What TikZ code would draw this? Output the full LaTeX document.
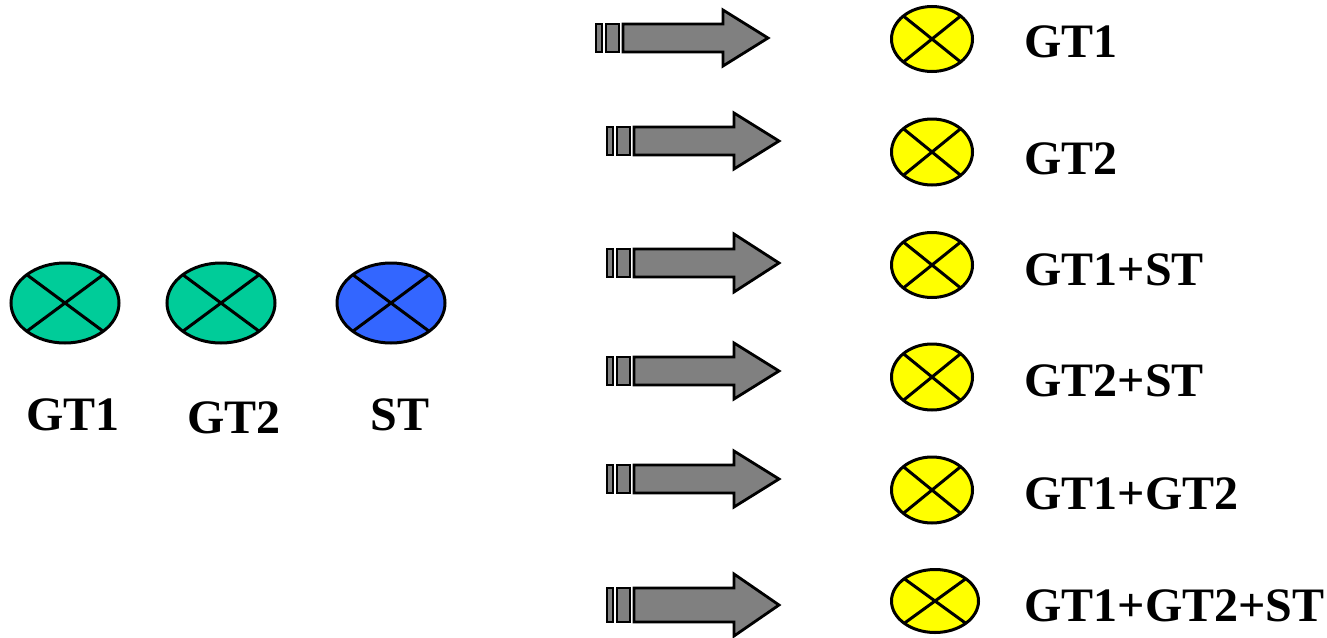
\documentclass[tikz,border=0pt]{standalone}
\usepackage{fontspec}
\setmainfont{Liberation Serif}
\usetikzlibrary{shapes.geometric,calc}
\definecolor{tgreen}{RGB}{0,204,153}
\definecolor{tblue}{RGB}{51,102,255}
\definecolor{tyellow}{RGB}{255,255,0}
\definecolor{tgray}{RGB}{128,128,128}
\tikzset{
  ell/.style={ellipse, draw=black, line width=1.5pt, inner sep=0pt},
  crossline/.style={draw=black, line width=1.5pt},
  lbl/.style={font=\fontsize{24}{28}\selectfont\bfseries, inner sep=0pt, text=black},
  arrowpart/.style={draw=black, fill=tgray, line width=1.4pt, line join=miter}
}
% \xell{name}{x}{y}{rx}{ry}{colour}
\newcommand{\xell}[6]{%
  \node[ell, fill=#6, minimum width={0.5pt*#4}, minimum height={0.5pt*#5}] (#1) at (#2,#3) {};
  \draw[crossline] ($(#1.center)+(0.3535*#4,0.3535*#5)$) -- ($(#1.center)+(-0.3535*#4,-0.3535*#5)$);
  \draw[crossline] ($(#1.center)+(-0.3535*#4,0.3535*#5)$) -- ($(#1.center)+(0.3535*#4,-0.3535*#5)$);
}
% \fatarrow{x0}{yc}{half body}{half head}
\newcommand{\fatarrow}[4]{%
  \draw[arrowpart] (#1,#2-#3) rectangle (#1+6,#2+#3);
  \draw[arrowpart] (#1+10,#2-#3) rectangle (#1+23,#2+#3);
  \draw[arrowpart] (#1+27,#2-#3) -- (#1+127,#2-#3) -- (#1+127,#2-#4) -- (#1+172,#2)
     -- (#1+127,#2+#4) -- (#1+127,#2+#3) -- (#1+27,#2+#3) -- cycle;
}
\begin{document}
\begin{tikzpicture}[x=0.5pt,y=-0.5pt]
\useasboundingbox (0,0) rectangle (1327,637);
% left group
\xell{g1}{65}{303}{108}{80}{tgreen}
\xell{g2}{221}{303}{108}{80}{tgreen}
\xell{st}{391}{303}{108}{80}{tblue}
\node[lbl, anchor=base] (lg1) at (73,430) {GT1};
\node[lbl, anchor=base] (lg2) at (234,433) {GT2};
\node[lbl, anchor=base] (lst) at (400,430) {ST};
% arrows
\fatarrow{596}{38}{14}{28}
\fatarrow{607}{141}{14}{28}
\fatarrow{607}{263}{14}{29}
\fatarrow{607}{371}{14}{28}
\fatarrow{607}{479}{14}{28}
\fatarrow{607}{605}{17}{31}
% right column
\xell{y1}{932}{39}{81}{65}{tyellow}
\xell{y2}{932}{152}{81}{66}{tyellow}
\xell{y3}{932}{265}{81}{65}{tyellow}
\xell{y4}{932}{377}{81}{66}{tyellow}
\xell{y5}{932}{490}{81}{66}{tyellow}
\xell{y6}{935}{601}{87}{63}{tyellow}
\node[lbl, anchor=base west] (t1) at (1024,57) {GT1};
\node[lbl, anchor=base west] (t2) at (1024,174) {GT2};
\node[lbl, anchor=base west] (t3) at (1024,285) {GT1+ST};
\node[lbl, anchor=base west] (t4) at (1024,396) {GT2+ST};
\node[lbl, anchor=base west] (t5) at (1024,509) {GT1+GT2};
\node[lbl, anchor=base west] (t6) at (1024,621) {GT1+GT2+ST};
\end{tikzpicture}
\end{document}
